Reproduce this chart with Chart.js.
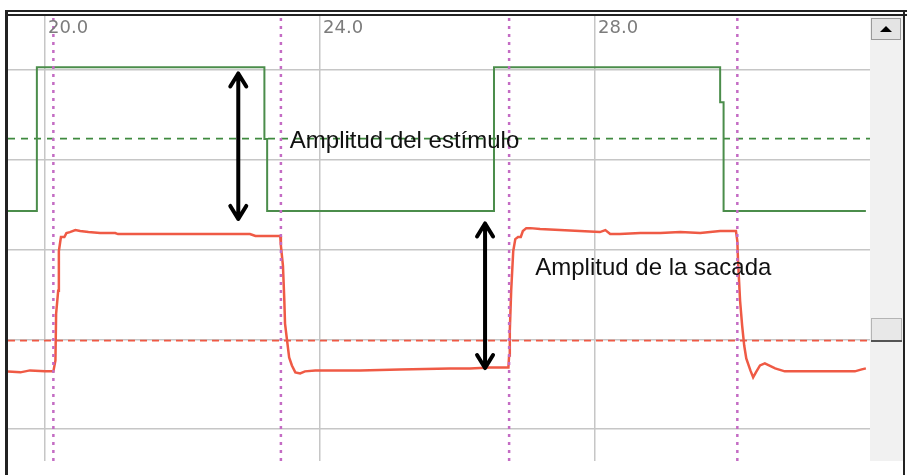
<!DOCTYPE html>
<html>
<head>
<meta charset="utf-8">
<script src="https://cdn.jsdelivr.net/npm/chart.js@4"></script>
<style>
  body { margin: 0; background: #fff; }
  canvas { display: block; }
</style>
</head>
<body>
<canvas id="myChart" width="907" height="475"></canvas>
<script>
// tiempo (s) y posiciones
const xTicks = [20, 24, 28]
const yTicks = [0, 10, 20, 30, 40]

// estimulo (verde)
const stimTime = [19.46, 19.88, 19.88, 23.19, 23.19, 23.23, 23.23, 26.53, 26.53, 29.82, 29.82, 29.87, 29.87, 31.94]
const stimPos  = [24.3, 24.3, 40.3, 40.3, 32.3, 32.3, 24.3, 24.3, 40.3, 40.3, 36.4, 36.4, 24.3, 24.3]
const stimMid = 32.35

// ojo (rojo)
const eyeTime = [19.46, 19.64, 19.78, 20.0, 20.12, 20.15, 20.16, 20.19, 20.2, 20.23, 20.28, 20.31, 20.36, 20.44,
  20.51, 20.63, 20.8, 21.02, 21.06, 21.67, 22.26, 22.98, 23.06, 23.27, 23.42, 23.43, 23.46, 23.48, 23.49, 23.52,
  23.55, 23.59, 23.64, 23.71, 23.78, 23.93, 24.15, 24.58, 25.16, 25.89, 26.18, 26.47, 26.62, 26.74, 26.75, 26.76,
  26.78, 26.81, 26.84, 26.88, 26.92, 26.95, 27.0, 27.06, 27.2, 27.49, 27.78, 28.07, 28.15, 28.22, 28.36, 28.66,
  28.95, 29.24, 29.53, 29.82, 30.05, 30.07, 30.08, 30.11, 30.14, 30.17, 30.2, 30.26, 30.3, 30.34, 30.4, 30.47,
  30.62, 30.76, 31.27, 31.56, 31.78, 31.88, 31.94]
const eyePos = [6.43, 6.32, 6.54, 6.43, 6.43, 7.65, 12.85, 15.4, 19.83, 21.39, 21.39, 21.83, 21.94, 22.16,
  22.05, 21.94, 21.83, 21.83, 21.72, 21.72, 21.72, 21.72, 21.5, 21.5, 21.5, 20.39, 18.17, 14.29, 11.75, 9.86,
  7.98, 7.09, 6.32, 6.2, 6.43, 6.54, 6.54, 6.54, 6.65, 6.76, 6.76, 6.87, 6.87, 6.87, 8.2, 10.97,
  15.4, 19.83, 21.16, 21.39, 21.39, 22.05, 22.38, 22.38, 22.27, 22.16, 22.05, 21.94, 22.16, 21.72, 21.72, 21.83,
  21.83, 21.94, 21.83, 22.05, 22.05, 20.94, 18.73, 14.29, 11.52, 9.31, 7.87, 6.54, 5.76, 6.32, 7.09, 7.31,
  6.76, 6.43, 6.43, 6.43, 6.43, 6.65, 6.76]
const eyeMid = 9.86

// lineas de evento (punteadas)
const markTime = [20.12, 23.43, 26.75, 30.07]

const xMin = 19.46, xMax = 32.0
const yMin = -3.55, yMax = 46.0

// flechas y textos
const arrows = [
  { x: 22.81, y1: 39.6, y2: 23.4 },
  { x: 26.4, y1: 22.9, y2: 6.8 }
]
const notes = [
  { text: 'Amplitud del estímulo', x: 23.56, y: 32.0 },
  { text: 'Amplitud de la sacada', x: 27.13, y: 17.95 }
]

const toPts = (xs, ys) => xs.map((x, i) => ({ x: x, y: ys[i] }))

const datasets = [
  { data: toPts(stimTime, stimPos), borderColor: '#4b8d4b', borderWidth: 2, order: 2 },
  { data: [{ x: xMin, y: stimMid }, { x: xMax, y: stimMid }], borderColor: '#3f8a3f', borderWidth: 1.8, borderDash: [7, 6], order: 3 },
  { data: toPts(eyeTime, eyePos), borderColor: '#ef5a45', borderWidth: 2.5, order: 2 },
  { data: [{ x: xMin, y: eyeMid }, { x: xMax, y: eyeMid }], borderColor: '#ef5a45', borderWidth: 1.8, borderDash: [7, 5], order: 3 }
]
markTime.forEach(t => {
  datasets.push({ data: [{ x: t, y: yMin }, { x: t, y: yMax }], borderColor: '#c46cc4', borderWidth: 2.5, borderDash: [3, 5], order: 1 })
})

const decor = {
  id: 'decor',
  beforeDraw(chart) {
    const c = chart.ctx
    c.save()
    // barra de desplazamiento
    c.fillStyle = '#f1f1f1'
    c.fillRect(870, 16, 33, 445)
    c.fillStyle = '#e4e4e4'
    c.fillRect(871, 18, 30, 22)
    c.strokeStyle = '#9a9a9a'
    c.lineWidth = 1
    c.strokeRect(871.5, 18.5, 29, 21)
    c.fillStyle = '#000'
    c.beginPath()
    c.moveTo(880, 32); c.lineTo(892, 32); c.lineTo(886, 26); c.closePath()
    c.fill()
    c.fillStyle = '#e8e8e8'
    c.fillRect(871, 318, 31, 23)
    c.strokeStyle = '#b4b4b4'
    c.strokeRect(871.5, 318.5, 30, 22)
    c.fillStyle = '#555'
    c.fillRect(871, 340, 31, 2)
    c.restore()
  },
  afterDraw(chart) {
    const c = chart.ctx
    c.save()
    // marco
    c.fillStyle = '#222'
    c.fillRect(5, 10, 902, 2)
    c.fillRect(5, 14, 902, 2)
    c.fillRect(5, 10, 3, 465)
    c.fillRect(903, 10, 2, 465)
    c.restore()
  },
  afterDatasetsDraw(chart) {
    const c = chart.ctx
    const xs = chart.scales.x, ys = chart.scales.y
    c.save()
    // etiquetas del eje x
    c.fillStyle = '#7c7c7c'
    c.font = '18px "DejaVu Sans"'
    c.textBaseline = 'alphabetic'
    xTicks.forEach(t => {
      c.fillText(t.toFixed(1), xs.getPixelForValue(t) + 3, 33)
    })
    // flechas
    c.strokeStyle = '#000'
    c.lineWidth = 4
    c.lineCap = 'round'
    c.lineJoin = 'round'
    arrows.forEach(a => {
      const px = xs.getPixelForValue(a.x)
      const p1 = ys.getPixelForValue(a.y1)
      const p2 = ys.getPixelForValue(a.y2)
      c.beginPath()
      c.moveTo(px, p1); c.lineTo(px, p2)
      c.moveTo(px - 8, p1 + 13); c.lineTo(px, p1); c.lineTo(px + 8, p1 + 13)
      c.moveTo(px - 8, p2 - 13); c.lineTo(px, p2); c.lineTo(px + 8, p2 - 13)
      c.stroke()
    })
    // textos
    c.fillStyle = '#111'
    c.font = '24px "Liberation Sans"'
    c.textBaseline = 'middle'
    notes.forEach(n => {
      c.fillText(n.text, xs.getPixelForValue(n.x), ys.getPixelForValue(n.y))
    })
    c.restore()
  }
}

const ctx = document.getElementById('myChart').getContext('2d')
const myChart = new Chart(ctx, {
  type: 'line',
  data: { datasets: datasets },
  options: {
    responsive: false,
    animation: false,
    devicePixelRatio: 1,
    layout: { padding: { left: 8, top: 16, right: 37, bottom: 14 } },
    elements: { point: { radius: 0 }, line: { tension: 0, fill: false } },
    plugins: { legend: { display: false }, tooltip: { enabled: false } },
    scales: {
      x: {
        type: 'linear', min: xMin, max: xMax,
        afterBuildTicks: s => { s.ticks = xTicks.map(v => ({ value: v })) },
        ticks: { display: false },
        grid: { color: '#c6c6c6', lineWidth: 1.5, drawTicks: false },
        border: { display: false }
      },
      y: {
        type: 'linear', min: yMin, max: yMax,
        afterBuildTicks: s => { s.ticks = yTicks.map(v => ({ value: v })) },
        ticks: { display: false },
        grid: { color: '#c6c6c6', lineWidth: 1.5, drawTicks: false },
        border: { display: false }
      }
    }
  },
  plugins: [decor]
})
</script>
</body>
</html>
